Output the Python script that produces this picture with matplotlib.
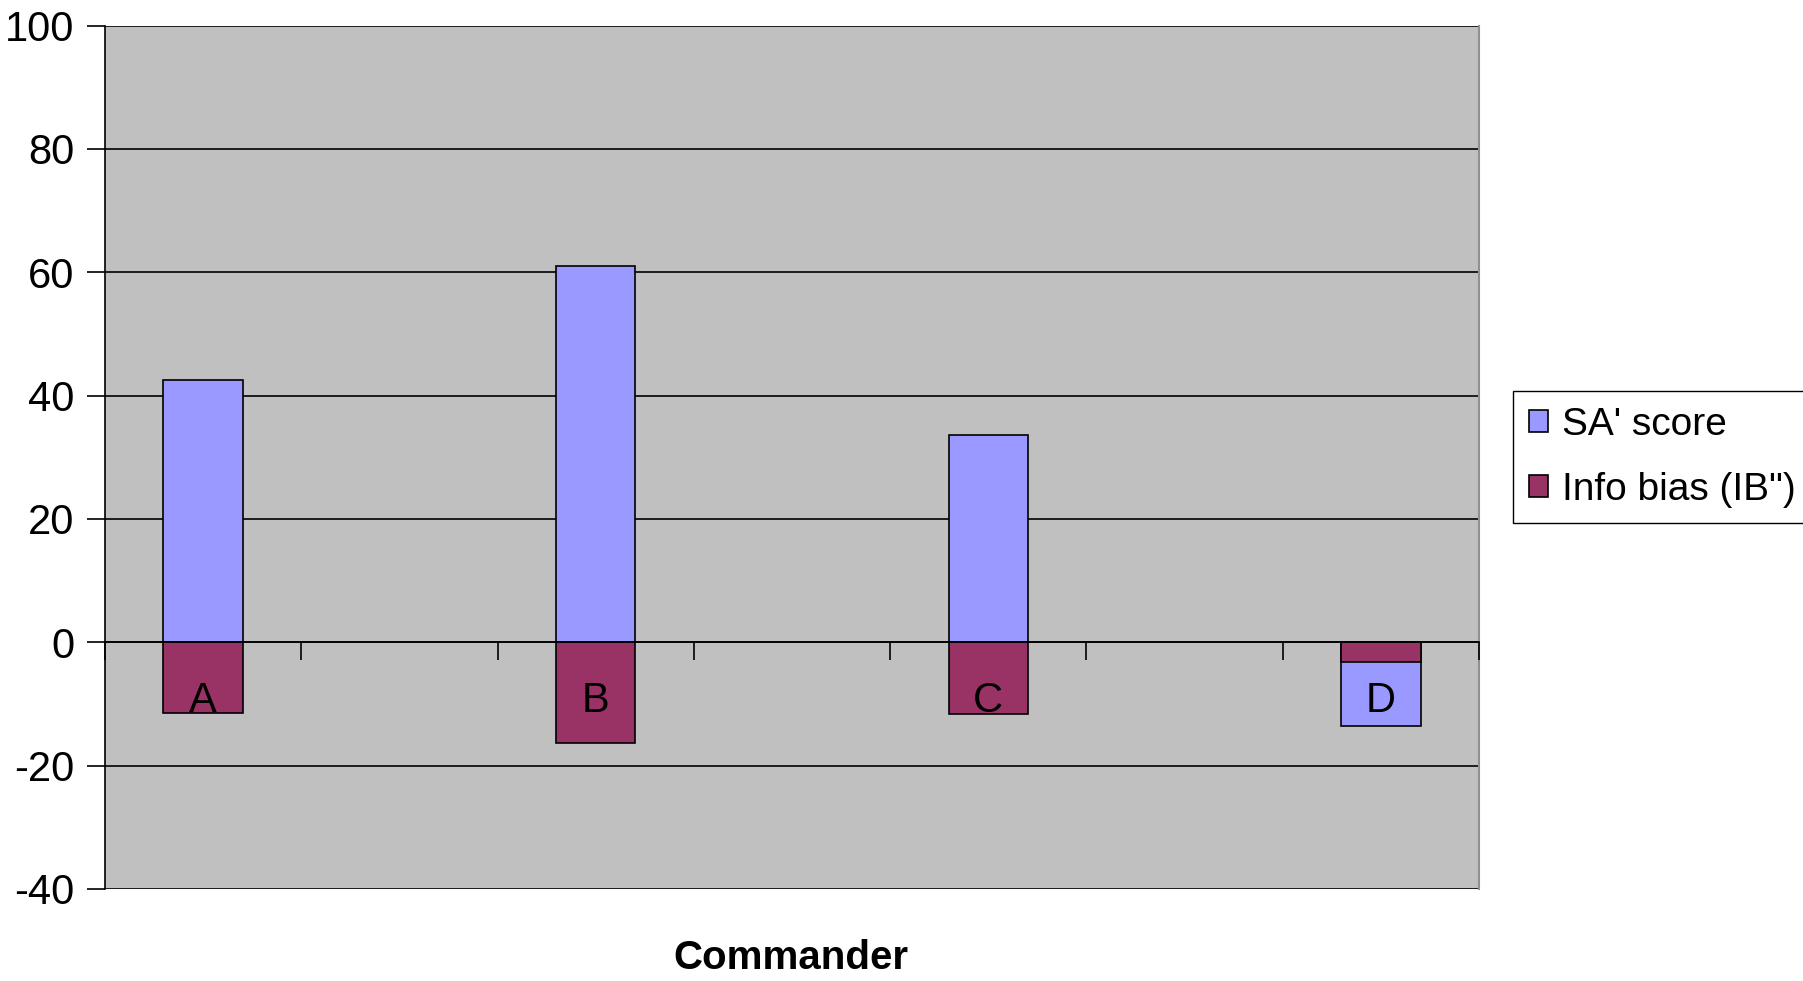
import matplotlib
matplotlib.use("Agg")

import matplotlib.pyplot as plt
import numpy as np
from matplotlib.patches import Patch

# ── Data ──
slots = ["A", "", "B", "", "C", "", "D"]
sa_score = [42.6, None, 61.0, None, 33.6, None, -13.6]
info_bias = [-11.5, None, -16.3, None, -11.6, None, -3.2]

plt.rcParams["font.family"] = ["Liberation Sans", "DejaVu Sans"]
plt.rcParams["axes.unicode_minus"] = False

fig = plt.figure(figsize=(18.03, 9.81), dpi=100)
ax = fig.add_axes([105 / 1803, 1 - 889 / 981, (1479 - 105) / 1803, (889 - 25.5) / 981])
ax.set_facecolor("#C0C0C0")

x = np.arange(len(slots))
width = 0.405
sa_x = [xi for xi, v in zip(x, sa_score) if v is not None]
sa_v = [v for v in sa_score if v is not None]
ib_x = [xi for xi, v in zip(x, info_bias) if v is not None]
ib_v = [v for v in info_bias if v is not None]

# overlapping bars, info bias drawn on top
ax.bar(sa_x, sa_v, width=width, color="#9999FF", edgecolor="#000000", linewidth=1.2, zorder=3)
ax.bar(ib_x, ib_v, width=width, color="#993366", edgecolor="#000000", linewidth=1.2, zorder=4)

# ── Axes ──
ax.set_xlim(-0.5, len(slots) - 0.5)
ax.set_ylim(-40, 100)
ax.set_yticks(np.arange(-40, 101, 20))
ax.yaxis.grid(True, color="#000000", linewidth=1.2)
ax.set_axisbelow(True)

ax.spines["bottom"].set_position(("data", 0))
ax.spines["bottom"].set_color("#000000")
ax.spines["bottom"].set_linewidth(1.2)
ax.spines["bottom"].set_zorder(5)
ax.spines["top"].set_visible(False)
ax.spines["left"].set_color("#000000")
ax.spines["left"].set_linewidth(1.2)
ax.spines["right"].set_color("#909090")
ax.spines["right"].set_linewidth(1.5)

ax.set_xticks(np.arange(-0.5, len(slots), 1.0))
ax.set_xticklabels([])
ax.set_xticks(x, minor=True)
ax.set_xticklabels(slots, minor=True)
ax.tick_params(axis="x", which="major", direction="out", length=13, width=1.2, color="#000000")
ax.tick_params(axis="x", which="minor", length=0, pad=28, labelsize=30)
ax.xaxis.set_zorder(5)
ax.tick_params(axis="y", direction="out", length=13, width=1.2, pad=9, labelsize=30)

fig.text(791 / 1803, 1 - 958 / 981, "Commander", ha="center", va="center",
         fontsize=29, fontweight="bold")

# ── Legend ──
handles = [Patch(facecolor="#9999FF", edgecolor="#000000", linewidth=1.2),
           Patch(facecolor="#993366", edgecolor="#000000", linewidth=1.2)]
fig.legend(handles, ["SA' score", "Info bias (IB\")"],
           loc="upper left", bbox_to_anchor=(1513 / 1803, 1 - 391 / 981),
           fontsize=28, frameon=True, fancybox=False, edgecolor="#000000",
           facecolor="#FFFFFF", framealpha=1, handlelength=0.5, handleheight=0.5,
           handletextpad=0.35, labelspacing=0.75, borderpad=0.4, borderaxespad=0)

fig.savefig("out.png", dpi=100, facecolor="#FFFFFF")
